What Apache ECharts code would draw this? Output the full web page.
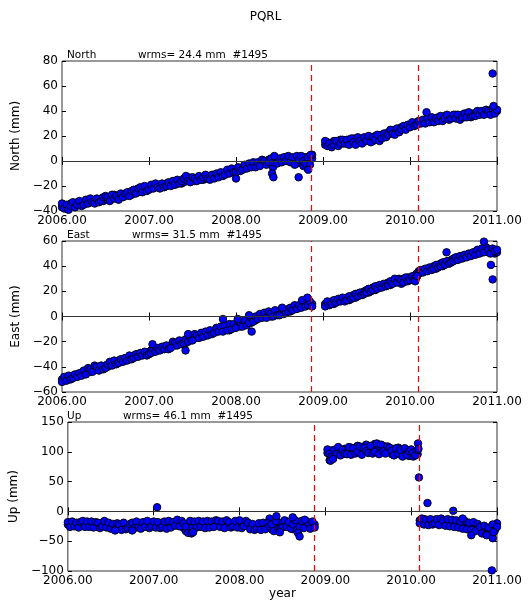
<!DOCTYPE html>
<html><head><meta charset="utf-8">
<script src="https://cdn.jsdelivr.net/npm/echarts@6/dist/echarts.min.js"></script>
<style>html,body{margin:0;padding:0;background:#fff}#c{width:531px;height:601px}</style>
</head><body><div id="c"></div>
<script>
// epochs before the 2008.87 gap
const yearsA = [2006.000,2006.025,2006.050,2006.075,2006.100,2006.125,2006.150,2006.175,2006.200,2006.225,
2006.250,2006.275,2006.300,2006.325,2006.350,2006.375,2006.400,2006.425,2006.450,2006.475,
2006.500,2006.525,2006.550,2006.575,2006.600,2006.625,2006.650,2006.675,2006.700,2006.725,
2006.750,2006.775,2006.800,2006.825,2006.850,2006.875,2006.900,2006.925,2006.950,2006.975,
2007.000,2007.025,2007.050,2007.075,2007.100,2007.125,2007.150,2007.175,2007.200,2007.225,
2007.250,2007.275,2007.300,2007.325,2007.350,2007.375,2007.400,2007.425,2007.450,2007.475,
2007.500,2007.525,2007.550,2007.575,2007.600,2007.625,2007.650,2007.675,2007.700,2007.725,
2007.750,2007.775,2007.800,2007.825,2007.850,2007.875,2007.900,2007.925,2007.950,2007.975,
2008.000,2008.025,2008.050,2008.075,2008.100,2008.125,2008.150,2008.175,2008.200,2008.225,
2008.250,2008.275,2008.300,2008.325,2008.350,2008.375,2008.400,2008.425,2008.450,2008.475,
2008.500,2008.525,2008.550,2008.575,2008.600,2008.625,2008.650,2008.675,2008.700,2008.725,
2008.750,2008.775,2008.800,2008.825,2008.850,2008.875];
// epochs after the gap
const yearsB = [2009.025,2009.050,2009.075,2009.100,2009.125,2009.150,2009.175,2009.200,2009.225,
2009.250,2009.275,2009.300,2009.325,2009.350,2009.375,2009.400,2009.425,2009.450,2009.475,
2009.500,2009.525,2009.550,2009.575,2009.600,2009.625,2009.650,2009.675,2009.700,2009.725,
2009.750,2009.775,2009.800,2009.825,2009.850,2009.875,2009.900,2009.925,2009.950,2009.975,
2010.000,2010.025,2010.050,2010.075,2010.100,2010.125,2010.150,2010.175,2010.200,2010.225,
2010.250,2010.275,2010.300,2010.325,2010.350,2010.375,2010.400,2010.425,2010.450,2010.475,
2010.500,2010.525,2010.550,2010.575,2010.600,2010.625,2010.650,2010.675,2010.700,2010.725,
2010.750,2010.775,2010.800,2010.825,2010.850,2010.875,2010.900,2010.925,2010.950,2010.975,2011.000];

// North (mm): two readings per epoch (upper / lower side of the band)
const northA = [-37,-35,-38,-36,-34,-36,-35,-33,-35,-34,
-33,-34,-32,-33,-31,-32,-33,-31,-30,-32,
-30,-31,-29,-30,-27,-30,-28,-29,-27,-28,
-27,-25,-27,-26,-23,-25,-24,-22,-23,-22,
-21,-22,-20,-21,-19,-20,-21,-19,-18,-19,
-18,-19,-17,-18,-16,-18,-17,-15,-13,-15,
-15,-16,-14,-15,-13,-15,-14,-12,-13,-13,
-12,-13,-11,-12,-10,-9,-10,-8,-9,-7,
-7,-8,-6,-5,-6,-4,-5,-3,-4,-3,
-3,-2,-1,-2,0,1,-1,-5,0,1,
0,2,1,3,1,2,0,2,-2,3,
2,-4,3,-6,4,2];
const northA2 = [-34,-38,-35,-39,-36,-33,-37,-35,-32,-36,
-35,-31,-34,-30,-33,-34,-30,-33,-32,-29,
-28,-29,-32,-27,-30,-28,-31,-26,-29,-26,
-25,-28,-24,-23,-26,-22,-21,-25,-20,-24,
-23,-19,-22,-18,-21,-22,-18,-21,-20,-17,
-20,-16,-19,-15,-18,-16,-14,-12,-16,-17,
-13,-14,-16,-12,-15,-13,-11,-14,-15,-11,
-14,-10,-13,-9,-12,-11,-7,-10,-6,-9,
-9,-5,-8,-7,-3,-6,-2,-5,-1,-5,
-1,-4,1,0,-3,-1,2,-1,3,-2,
2,-1,3,0,4,-1,3,-3,4,1,
4,0,-2,3,-3,5];
const northB = [13,15,12,14,16,13,15,17,14,
16,14,17,15,18,16,17,15,18,16,
18,17,19,16,20,18,19,21,20,22,
23,22,24,25,23,26,27,26,28,27,
29,28,30,31,30,32,31,33,32,33,
33,34,32,35,33,34,36,34,35,36,
35,37,34,36,37,35,38,36,37,38,
38,37,39,38,40,39,38,40,39,41,40];
const northB2 = [16,12,14,11,13,16,12,14,17,
14,17,13,18,15,13,19,16,14,19,
16,20,15,19,17,21,16,18,22,19,
21,25,22,21,26,23,25,28,25,29,
27,31,28,29,32,30,33,30,34,31,
35,31,34,32,36,32,34,37,33,34,
37,34,37,33,35,38,35,39,35,36,
36,40,37,40,37,41,40,37,42,38,41];
const northOutYears = [2008.000,2008.415,2008.430,2008.440,2008.720,2008.830,2008.860,2010.190,2010.950,2010.960];
const northOutVals  = [-14,-10,-13,4,-13,-7,5,39,70,44];

// East (mm)
const eastA = [-50,-51,-49,-50,-48,-47,-48,-46,-47,-45,
-45,-44,-43,-44,-42,-41,-42,-40,-41,-40,
-39,-40,-38,-37,-38,-36,-35,-36,-34,-35,
-33,-34,-32,-31,-32,-30,-31,-29,-30,-29,
-28,-27,-28,-26,-27,-25,-26,-24,-25,-24,
-23,-22,-23,-21,-22,-20,-19,-21,-18,-19,
-17,-16,-17,-15,-16,-14,-15,-13,-14,-12,
-11,-12,-10,-11,-9,-10,-8,-11,-7,-9,
-7,-6,-8,-5,-6,-4,-3,-5,-2,-3,
0,-1,1,0,2,1,0,3,2,4,
3,4,2,5,6,4,7,6,8,7,
9,8,10,11,9,10];
const eastA2 = [-52,-48,-51,-47,-50,-49,-46,-48,-45,-47,
-43,-46,-41,-42,-44,-39,-40,-43,-39,-42,
-41,-38,-36,-39,-35,-38,-37,-34,-36,-33,
-35,-31,-34,-33,-30,-32,-29,-31,-28,-31,
-30,-29,-26,-28,-25,-27,-24,-26,-23,-26,
-25,-20,-21,-23,-19,-22,-21,-18,-20,-17,
-19,-14,-15,-17,-13,-16,-12,-15,-11,-14,
-13,-9,-12,-8,-12,-7,-11,-6,-10,-6,
-9,-4,-5,-8,-3,-7,-5,-1,-4,0,
-2,2,-1,3,-1,4,2,0,5,1,
1,6,5,3,4,7,5,9,6,9,
7,11,8,9,12,8];
const eastB = [10,9,11,12,10,13,12,14,13,
14,15,13,16,17,15,18,17,19,20,
21,19,22,23,21,24,23,25,24,26,
27,25,28,27,29,28,26,30,29,31,
31,29,32,34,36,35,37,36,38,37,
39,40,38,41,42,40,43,42,44,45,
46,45,47,46,48,47,49,48,50,49,
51,50,52,51,53,52,51,53,52,50,51];
const eastB2 = [8,12,9,10,13,11,14,12,15,
12,13,16,14,15,18,16,19,17,18,
19,22,20,21,24,22,25,23,26,24,
25,28,26,30,27,30,29,27,31,28,
29,32,30,31,34,37,35,38,36,39,
37,38,41,39,40,43,41,44,42,43,
44,47,45,48,46,49,47,50,48,51,
49,53,50,54,51,55,53,50,54,52,53];
const eastOutYears = [2007.040,2007.420,2007.450,2007.850,2008.020,2008.150,2008.180,2008.530,2008.760,2008.820,2010.060,2010.080,2010.420,2010.850,2010.930,2010.950];
const eastOutVals  = [-22,-27,-14,-2,-2,1,-12,7,13,15,28,32,51,59.5,41,29.5];

// Up (mm)
const upA = [-22,-20,-24,-21,-23,-19,-25,-22,-20,-23,
-21,-24,-20,-22,-26,-21,-19,-23,-22,-25,
-24,-27,-23,-26,-28,-24,-25,-27,-23,-26,
-24,-22,-26,-21,-23,-25,-20,-22,-24,-21,
-23,-20,-25,-22,-19,-24,-21,-23,-20,-22,
-18,-21,-17,-24,-28,-33,-30,-22,-20,-23,
-21,-24,-19,-22,-20,-23,-21,-25,-20,-22,
-21,-19,-23,-20,-22,-24,-21,-19,-23,-20,
-21,-23,-19,-22,-25,-24,-27,-26,-24,-28,
-25,-27,-23,-26,-12,-30,-20,-24,-18,-22,
-19,-23,-17,-25,-22,-30,-28,-21,-18,-24,
-20,-23,-26,-21,-24,-22];
const upA2 = [-18,-26,-17,-25,-19,-27,-18,-16,-26,-17,
-26,-17,-27,-18,-19,-28,-25,-16,-27,-19,
-29,-21,-30,-20,-22,-31,-19,-30,-28,-21,
-19,-28,-17,-27,-29,-18,-26,-16,-28,-25,
-17,-27,-18,-28,-26,-17,-29,-16,-27,-18,
-24,-14,-25,-16,-20,-26,-36,-16,-28,-17,
-27,-16,-26,-17,-28,-16,-27,-17,-26,-15,
-16,-26,-17,-28,-15,-18,-27,-25,-16,-27,
-15,-28,-25,-16,-19,-30,-21,-31,-29,-20,
-31,-19,-30,-20,-25,-22,-33,-16,-29,-30,
-27,-15,-26,-18,-29,-22,-15,-30,-26,-16,
-28,-16,-19,-29,-17,-27];
const upB = [98,86,102,95,104,99,101,96,105,
103,98,107,100,104,110,101,106,99,112,
105,100,108,113,102,107,99,110,104,101,
100,96,104,98,107,95,101,99,103,93,
98,92,101,96,-15,-18,-13,-20,-16,-19,
-17,-14,-20,-16,-18,-22,-15,-19,-17,-21,
-19,-23,-17,-25,-20,-24,-21,-27,-23,-26,
-25,-29,-32,-27,-34,-30,-36,-28,-33,-25,-20];
const upB2 = [104,97,92,103,96,108,94,103,97,
96,108,95,106,97,100,109,95,107,101,
98,110,97,100,114,96,112,101,97,109,
107,102,94,106,97,103,92,106,95,101,
104,99,94,103,-20,-12,-22,-14,-23,-13,
-22,-20,-13,-23,-12,-16,-24,-13,-25,-14,
-26,-15,-27,-17,-29,-16,-30,-19,-31,-18,
-33,-21,-26,-37,-24,-39,-27,-40,-22,-32,-26];
const upOutYears = [2006.550,2006.750,2007.040,2007.440,2007.460,2008.430,2008.470,2008.620,2008.680,2008.700,2008.760,
2009.060,2009.090,2010.080,2010.085,2010.090,2010.190,2010.490,2010.600,2010.700,2010.880,2010.940,2010.950,2010.960];
const upOutVals  = [-32,-32,7,-37,-35,-8,-35,-10,-36,-42,-14,
85,88,114,105,57,14,1,-12,-40,-40,-99,-45,-35];

const panelNames = ['North','East','Up'];
const wrmsTexts = ['wrms= 24.4 mm  #1495','wrms= 31.5 mm  #1495','wrms= 46.1 mm  #1495'];
const yMins = [-40,-60,-100], yMaxs = [80,60,150], yIntervals = [20,20,50];
const breaks = [2008.87, 2010.087];
const xTicks = [2006, 2011, 1];

const FONT = 'DejaVu Sans';
const chart = echarts.init(document.getElementById('c'), null, {renderer:'canvas'});

const gridTops = [61, 241, 422], gridHeights = [150, 151, 150];
const grids = [], xAxes = [], yAxes = [], series = [], titles = [];
titles.push({text:'PQRL', left:'center', top:6, textStyle:{fontFamily:FONT, fontSize:12, fontWeight:'normal', color:'#000'}});
const wrmsLefts = [133, 127, 118];
const valsA = [[northA, northA2], [eastA, eastA2], [upA, upA2]];
const valsB = [[northB, northB2], [eastB, eastB2], [upB, upB2]];
const outY = [northOutYears, eastOutYears, upOutYears], outV = [northOutVals, eastOutVals, upOutVals];
const minus = v => String(v).replace('-', '\u2212');

for (let p = 0; p < 3; p++) {
  grids.push({left:62, right:34, top:gridTops[p], height:gridHeights[p], show:true, borderColor:'#333', borderWidth:1, backgroundColor:'transparent'});
  titles.push({text:panelNames[p], left:62, top:gridTops[p]-16, textStyle:{fontFamily:FONT, fontSize:10.5, fontWeight:'normal', color:'#000'}});
  titles.push({text:wrmsTexts[p], left:wrmsLefts[p], top:gridTops[p]-16, textStyle:{fontFamily:FONT, fontSize:10.5, fontWeight:'normal', color:'#000'}});
  xAxes.push({type:'value', gridIndex:p, min:xTicks[0], max:xTicks[1], interval:xTicks[2], position:'bottom',
    name: p === 2 ? 'year' : '', nameLocation:'middle', nameGap:17,
    nameTextStyle:{fontFamily:FONT, fontSize:12, color:'#000'},
    axisLine:{show:false}, splitLine:{show:false},
    axisTick:{show:true, inside:true, length:4, lineStyle:{color:'#000'}},
    axisLabel:{fontFamily:FONT, fontSize:12, color:'#000', margin:4, formatter:v => v.toFixed(2)}});
  xAxes.push({type:'value', gridIndex:p, min:xTicks[0], max:xTicks[1], interval:xTicks[2], position:'top',
    axisLine:{show:false}, splitLine:{show:false}, axisLabel:{show:false},
    axisTick:{show:true, inside:true, length:4, lineStyle:{color:'#000'}}});
  yAxes.push({type:'value', gridIndex:p, min:yMins[p], max:yMaxs[p], interval:yIntervals[p], position:'left',
    name:panelNames[p] + ' (mm)', nameLocation:'middle', nameGap:31,
    nameTextStyle:{fontFamily:FONT, fontSize:12, color:'#000'},
    axisLine:{show:false}, splitLine:{show:false},
    axisTick:{show:true, inside:true, length:4, lineStyle:{color:'#000'}},
    axisLabel:{fontFamily:FONT, fontSize:12, color:'#000', margin:4, formatter:minus}});
  yAxes.push({type:'value', gridIndex:p, min:yMins[p], max:yMaxs[p], interval:yIntervals[p], position:'right',
    axisLine:{show:false}, splitLine:{show:false}, axisLabel:{show:false},
    axisTick:{show:true, inside:true, length:4, lineStyle:{color:'#000'}}});

  const data = [];
  valsA[p].forEach(arr => yearsA.forEach((t, i) => data.push([t, arr[i]])));
  valsB[p].forEach(arr => yearsB.forEach((t, i) => data.push([t, arr[i]])));
  outY[p].forEach((t, i) => data.push([t, outV[p][i]]));

  series.push({type:'scatter', xAxisIndex:2*p, yAxisIndex:2*p, data:data, symbolSize:7.5, clip:true, silent:true,
    itemStyle:{color:'#0000ff', borderColor:'#000', borderWidth:0.9, opacity:1},
    markLine:{silent:true, symbol:'none', label:{show:false}, animation:false,
      data:[
        {yAxis:0, lineStyle:{color:'#333', type:'solid', width:1}},
        {xAxis:breaks[0], lineStyle:{color:'#ff0000', type:[6,4], width:1.2}},
        {xAxis:breaks[1], lineStyle:{color:'#ff0000', type:[6,4], width:1.2}}
      ]}});
}

chart.setOption({animation:false, backgroundColor:'#fff', title:titles, grid:grids, xAxis:xAxes, yAxis:yAxes, series:series});
</script></body></html>
